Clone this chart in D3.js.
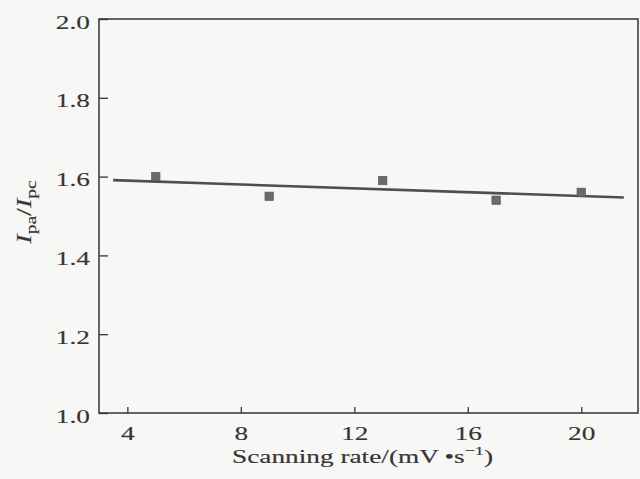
<!DOCTYPE html>
<html>
<head>
<meta charset="utf-8">
<script src="https://cdn.jsdelivr.net/npm/d3@7"></script>
<style>
  html, body { margin: 0; padding: 0; background: #f7f7f6; }
  svg { display: block; }
</style>
</head>
<body>
<svg id="chart" width="640" height="479"></svg>
<script>
// Scanning rate (mV/s) and peak current ratio Ipa/Ipc
const scanRates = [5, 9, 13, 17, 20];
const peakRatios = [1.60, 1.55, 1.59, 1.54, 1.56];

// Endpoints of the fitted straight line
const fitRates = [3.5, 21.5];
const fitRatios = [1.591, 1.547];

const xTickValues = [4, 8, 12, 16, 20];
const yTickValues = [1.0, 1.2, 1.4, 1.6, 1.8, 2.0];

const W = 640, H = 479;
const margin = { left: 99, right: 2, top: 19, bottom: 66 };
const stretch = 1.4;        // wide typeface
const ink = "#343434";
const fontFamily = "'Liberation Serif', 'Times New Roman', serif";

const svg = d3.select("#chart");

const x = d3.scaleLinear().domain([3, 22]).range([margin.left, W - margin.right]);
const y = d3.scaleLinear().domain([1.0, 2.0]).range([H - margin.bottom, margin.top]);

// shared text styling
function textStyle(sel, size) {
  sel.attr("fill", ink)
    .attr("stroke", ink).attr("stroke-width", 0.15)
    .attr("font-size", size).attr("font-family", fontFamily);
}

// plot frame
svg.append("rect")
  .attr("x", x(3)).attr("y", y(2.0))
  .attr("width", x(22) - x(3)).attr("height", y(1.0) - y(2.0))
  .attr("fill", "none").attr("stroke", ink).attr("stroke-width", 1.5);

// x axis, ticks pointing inward
const xAxis = svg.append("g")
  .attr("transform", `translate(0,${y(1.0)})`)
  .call(d3.axisBottom(x).tickValues(xTickValues).tickSizeInner(-6).tickSizeOuter(0).tickPadding(0).tickFormat(d3.format("d")));
xAxis.select(".domain").remove();
xAxis.selectAll(".tick line").attr("stroke", ink).attr("stroke-width", 1.3);
xAxis.selectAll(".tick text")
  .attr("y", 0).attr("dy", null)
  .attr("transform", `translate(0,27) scale(${stretch},1)`)
  .call(textStyle, 19.5);

// y axis, ticks pointing inward
const yAxis = svg.append("g")
  .attr("transform", `translate(${x(3)},0)`)
  .call(d3.axisLeft(y).tickValues(yTickValues).tickSizeInner(-9).tickSizeOuter(0).tickPadding(0).tickFormat(d3.format(".1f")));
yAxis.select(".domain").remove();
yAxis.selectAll(".tick line").attr("stroke", ink).attr("stroke-width", 1.3);
yAxis.selectAll(".tick text")
  .attr("x", 0).attr("dy", null).attr("y", 0)
  .attr("text-anchor", "end")
  .attr("transform", `translate(-9,9) scale(${stretch},1)`)
  .call(textStyle, 19.5);

// fitted line
const line = d3.line().x(d => x(d[0])).y(d => y(d[1]));
svg.append("path")
  .datum(d3.zip(fitRates, fitRatios))
  .attr("d", line)
  .attr("fill", "none").attr("stroke", "#4e4e4e").attr("stroke-width", 2.6);

// square markers
const sq = 8.5;
svg.append("g").selectAll("rect")
  .data(d3.zip(scanRates, peakRatios))
  .join("rect")
  .attr("x", d => x(d[0]) - sq / 2)
  .attr("y", d => y(d[1]) - sq / 2)
  .attr("width", sq).attr("height", sq)
  .attr("fill", "#6b6b6b").attr("stroke", "#555").attr("stroke-width", 0.6);

// x axis title
const xTitle = svg.append("text")
  .attr("transform", `translate(${(x(3) + x(22)) / 2 - 6},463) scale(${stretch},1)`)
  .attr("text-anchor", "middle")
  .call(textStyle, 19.5);
xTitle.append("tspan").text("Scanning rate/(mV\u2009\u2022s");
xTitle.append("tspan").attr("font-size", 13).attr("dy", -8).text("\u22121");
xTitle.append("tspan").attr("dy", 8).text(")");

// y axis title
const yTitle = svg.append("text")
  .attr("transform", `translate(31,${(y(1.0) + y(2.0)) / 2 - 4}) rotate(-90) scale(${stretch},1)`)
  .attr("text-anchor", "middle")
  .call(textStyle, 20);
yTitle.append("tspan").attr("font-style", "italic").text("I");
yTitle.append("tspan").attr("font-size", 14).attr("dy", 5).text("pa");
yTitle.append("tspan").attr("dy", -5).text("/");
yTitle.append("tspan").attr("font-style", "italic").text("I");
yTitle.append("tspan").attr("font-size", 14).attr("dy", 5).text("pc");
</script>
</body>
</html>
